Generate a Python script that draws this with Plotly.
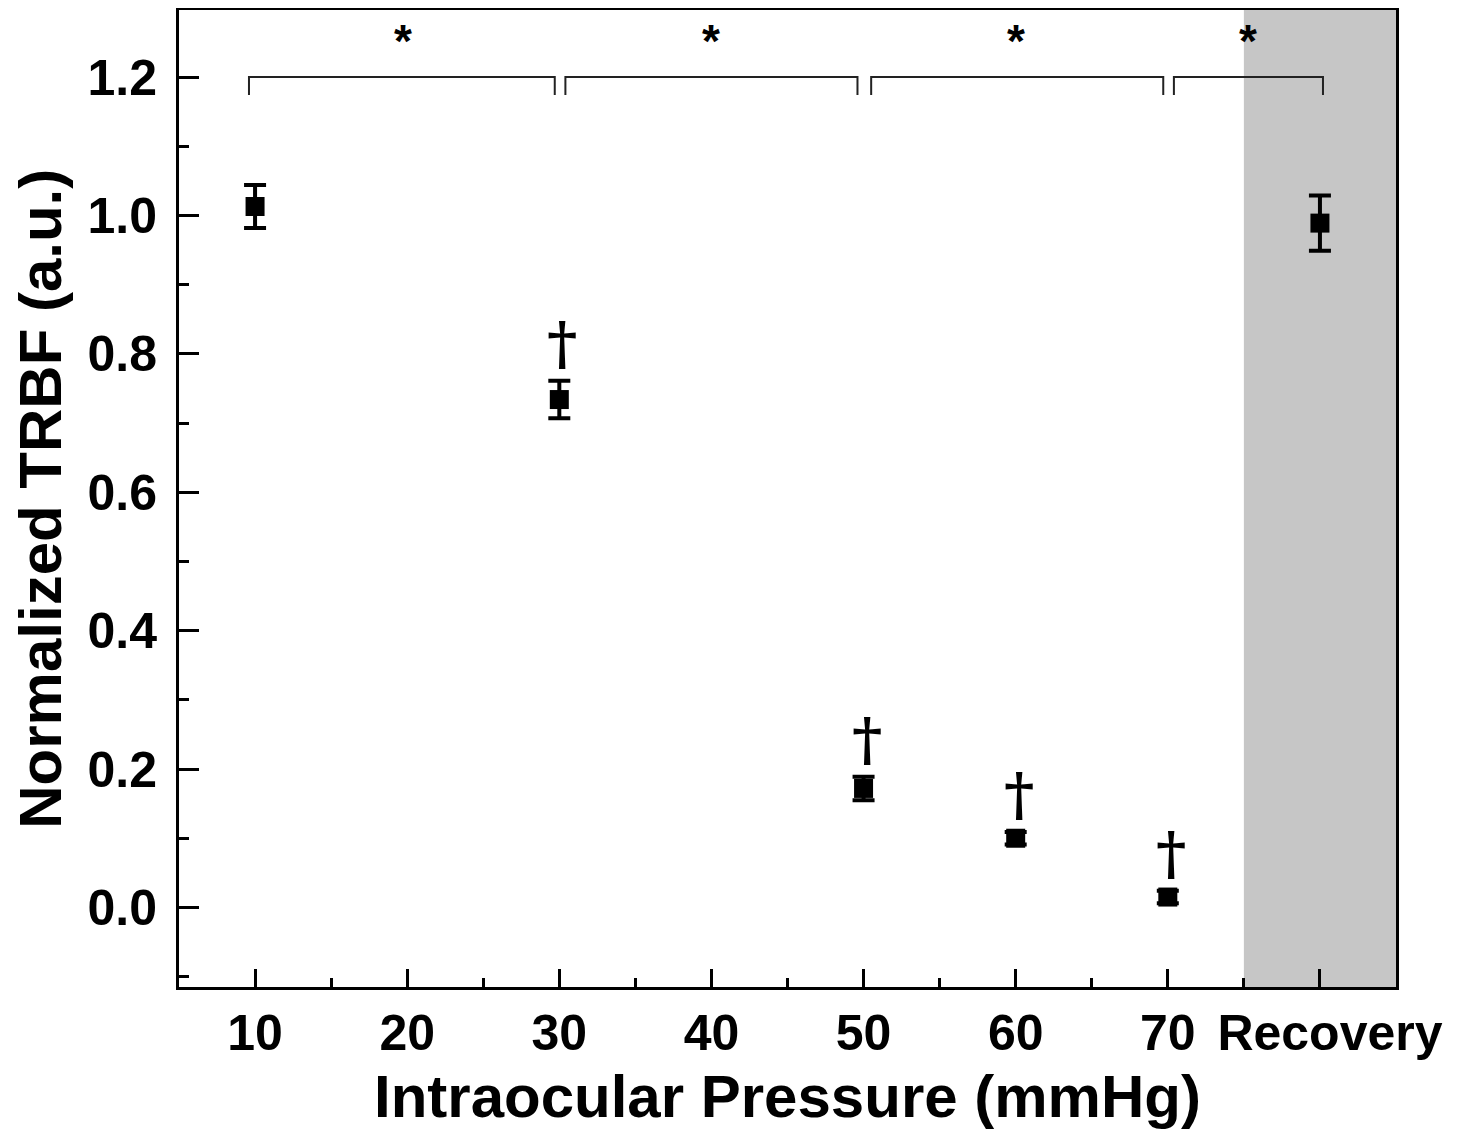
import plotly.graph_objects as go

# ---- data ----
x_pos = [10, 30, 50, 60, 70, 80]
trbf = [1.013, 0.734, 0.172, 0.100, 0.015, 0.989]
trbf_err = [0.031, 0.027, 0.017, 0.009, 0.009, 0.040]
tick_vals = [10, 20, 30, 40, 50, 60, 70, 80]
tick_text = ["10", "20", "30", "40", "50", "60", "70", "\u2009\u2009Recovery"]
dagger_x = [30, 50, 60, 70]
# significance brackets: (left, right, star x)
brackets = [(9.6, 29.7, 19.7), (30.4, 49.6, 40.0), (50.5, 69.7, 60.0), (70.4, 80.2, 75.3)]
bracket_y = 1.2
bracket_drop = 0.026
star_y = 1.252
recovery_band = (75, 85)

FONT = "Liberation Sans, Arial, sans-serif"

fig = go.Figure()

fig.add_trace(go.Scatter(
    x=x_pos, y=trbf, mode="markers",
    marker=dict(symbol="square", size=19, color="black"),
    error_y=dict(type="data", array=trbf_err, visible=True,
                 thickness=4, width=11, color="black"),
    showlegend=False,
))

shapes = []
shapes.append(dict(type="rect", xref="x", yref="paper",
                   x0=recovery_band[0], x1=recovery_band[1], y0=0, y1=1,
                   fillcolor="#c6c6c6", line=dict(width=0), layer="below"))
annotations = []
for (l, r, sx) in brackets:
    shapes.append(dict(
        type="path", xref="x", yref="y",
        path=f"M {l},{bracket_y - bracket_drop} L {l},{bracket_y} L {r},{bracket_y} L {r},{bracket_y - bracket_drop}",
        line=dict(color="#222222", width=2)))
    annotations.append(dict(x=sx, y=star_y, xref="x", yref="y", text="*",
                            showarrow=False, xanchor="center", yanchor="middle",
                            font=dict(family=FONT, size=46, color="black", weight="bold")))

for xv in dagger_x:
    i = x_pos.index(xv)
    annotations.append(dict(x=xv + 0.2, y=trbf[i] + trbf_err[i], xref="x", yref="y", text="†",
                            showarrow=False, xanchor="center", yanchor="bottom", yshift=2,
                            font=dict(family="DejaVu Serif, serif", size=58, color="black", weight="bold")))

annotations.append(dict(x=0.5, y=-0.112, xref="paper", yref="paper",
                        text="Intraocular Pressure (mmHg)", showarrow=False,
                        xanchor="center", yanchor="middle",
                        font=dict(family=FONT, size=60, color="black", weight="bold")))
annotations.append(dict(x=-0.114, y=0.5, xref="paper", yref="paper",
                        text="Normalized TRBF (a.u.)", showarrow=False, textangle=-90,
                        xanchor="center", yanchor="middle",
                        font=dict(family=FONT, size=60, color="black", weight="bold")))

fig.update_layout(
    width=1455, height=1121,
    margin=dict(l=171, r=67, t=2, b=142),
    paper_bgcolor="white", plot_bgcolor="white",
    shapes=shapes, annotations=annotations,
    xaxis=dict(range=[5, 85], tickvals=tick_vals, ticktext=tick_text, tickangle=0,
               automargin=False,
               ticks="inside", ticklen=18, tickwidth=3, tickcolor="black",
               minor=dict(dtick=5, tick0=5, ticks="inside", ticklen=9, tickwidth=3, tickcolor="black"),
               showline=True, linewidth=3, linecolor="black", mirror=True,
               showgrid=False, zeroline=False, ticklabelstandoff=0,
               tickfont=dict(family=FONT, size=50, color="black", weight="bold")),
    yaxis=dict(range=[-0.115, 1.297], tickvals=[0, 0.2, 0.4, 0.6, 0.8, 1.0, 1.2],
               tickformat=".1f", automargin=False,
               ticks="inside", ticklen=20, tickwidth=3, tickcolor="black",
               minor=dict(dtick=0.1, tick0=0, ticks="inside", ticklen=10, tickwidth=3, tickcolor="black"),
               showline=True, linewidth=3, linecolor="black", mirror=True,
               showgrid=False, zeroline=False, ticklabelstandoff=9,
               tickfont=dict(family=FONT, size=50, color="black", weight="bold")),
)

fig.write_html("out.html")
